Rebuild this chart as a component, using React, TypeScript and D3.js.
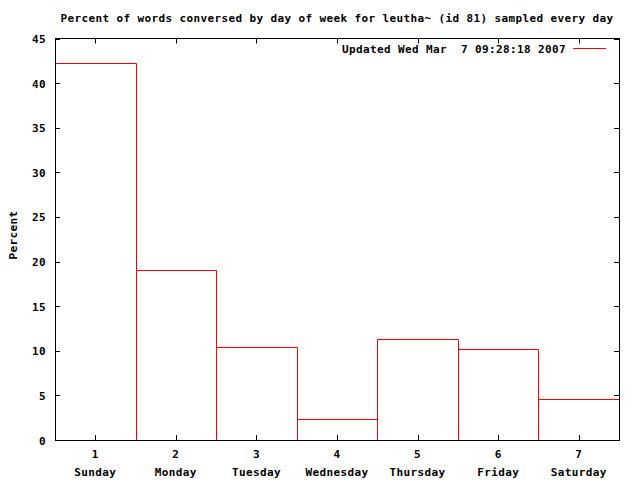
import React from "react";
import * as d3 from "d3";

const days = [1, 2, 3, 4, 5, 6, 7];
const dayNames = ["Sunday", "Monday", "Tuesday", "Wednesday", "Thursday", "Friday", "Saturday"];
const percents = [42.25, 19.02, 10.39, 2.32, 11.29, 10.17, 4.56];
const yTicks = [0, 5, 10, 15, 20, 25, 30, 35, 40, 45];
const title = "Percent of words conversed by day of week for leutha~ (id 81) sampled every day";
const legendLabel = "Updated Wed Mar  7 09:28:18 2007";

const W = 640, H = 480;
const L = 55, R = 619, T = 38.5, B = 440;
const font = "'DejaVu Sans Mono', monospace";
const fs = 11;
const ls = 0.38;

export default function App() {
  const x = d3.scaleLinear().domain([0.5, 7.5]).range([L, R]);
  const y = d3.scaleLinear().domain([0, 45]).range([B, T]);

  const tl = 5;
  const textStyle: React.CSSProperties = { fontFamily: font, fontSize: fs, fontWeight: "bold", letterSpacing: ls, whiteSpace: "pre" };
  const px = (v: number) => Math.round(v) + 0.5;

  return (
    <svg width={W} height={H} style={{ position: "absolute", left: 0, top: 0, background: "#fff" }}>
      <rect x={0} y={0} width={W} height={H} fill="#fff" />
      <text x={(L + R) / 2} y={22} textAnchor="middle" style={textStyle} fill="#000">{title}</text>
      <text transform={`translate(17,235) rotate(-90)`} textAnchor="middle" style={textStyle} fill="#000">Percent</text>

      {days.map((d, i) => {
        const x0 = px(x(d - 0.5));
        const x1 = px(x(d + 0.5));
        const yt = px(y(percents[i]));
        return (
          <path key={"b" + d} d={`M${x0},${px(y(0))}V${yt}H${x1}V${px(y(0))}`} fill="none" stroke="#ff0000" strokeWidth={1} />
        );
      })}

      {yTicks.map((t) => (
        <g key={"y" + t}>
          <line x1={L} x2={L + tl} y1={px(y(t))} y2={px(y(t))} stroke="#000" />
          <line x1={R} x2={R - tl} y1={px(y(t))} y2={px(y(t))} stroke="#000" />
          <text x={46} y={y(t) + 4.5} textAnchor="end" style={textStyle} fill="#000">{t}</text>
        </g>
      ))}
      {days.map((d, i) => (
        <g key={"x" + d}>
          <line x1={px(x(d))} x2={px(x(d))} y1={B} y2={B - tl} stroke="#000" />
          <line x1={px(x(d))} x2={px(x(d))} y1={T} y2={T + tl} stroke="#000" />
          <text x={x(d)} y={457.5} textAnchor="middle" style={textStyle} fill="#000">{d}</text>
          <text x={x(d)} y={475.5} textAnchor="middle" style={textStyle} fill="#000">{dayNames[i]}</text>
        </g>
      ))}

      <rect x={L + 0.5} y={T} width={R - L - 0.5} height={B - T + 0.5} fill="none" stroke="#000" strokeWidth={1} shapeRendering="crispEdges" />

      <text x={566} y={53} textAnchor="end" style={textStyle} fill="#000" xmlSpace="preserve">{legendLabel}</text>
      <line x1={573} x2={606} y1={48.5} y2={48.5} stroke="#ff0000" />
    </svg>
  );
}
